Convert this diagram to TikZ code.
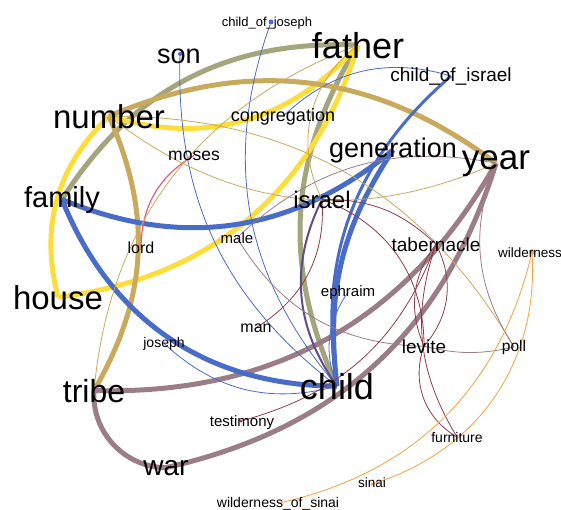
\documentclass[tikz,border=0pt]{standalone}
\usepackage{fontspec}
\setmainfont{Liberation Sans}
\definecolor{olivec}{RGB}{163,166,124}
\definecolor{yellowc}{RGB}{253,221,58}
\definecolor{tanc}{RGB}{201,170,92}
\definecolor{bluec}{RGB}{72,108,200}
\definecolor{mauvec}{RGB}{155,125,135}
\definecolor{redc}{RGB}{142,60,75}
\definecolor{pinkc}{RGB}{232,90,128}
\definecolor{purplec}{RGB}{94,75,139}
\definecolor{orangec}{RGB}{245,160,64}
\pgfdeclarelayer{edges}
\pgfsetlayers{edges,main}
\tikzset{
  w/.style={font=\fontsize{#1}{#1}\selectfont, inner sep=0pt, anchor=base, text=black},
  dotn/.style={circle, fill=#1, inner sep=0pt, minimum size=5pt},
  heavy/.style={line width=5pt},
  mid/.style={line width=3pt},
  light/.style={line width=0.8pt},
}
\begin{document}
\begin{tikzpicture}[x=1pt,y=-1pt]
\useasboundingbox (0,0) rectangle (561,509);
% node dots
\node[dotn=bluec] (cjdot) at (271,22) {};
\node[dotn=bluec, minimum size=4pt] (sondot) at (180,54) {};
\node[dotn=orangec] (wdot) at (532,252) {};
\node[dotn=orangec, minimum size=3pt] (sdot) at (372,484) {};
\node[dotn=redc, minimum size=3pt] (tdot) at (241,421) {};
% labels
\node[w=13] (cjoseph) at (267,26) {child\_of\_joseph};
\node[w=27] (son) at (179,63) {son};
\node[w=36] (father) at (358,58) {father};
\node[w=19] (cisrael) at (451,81) {child\_of\_israel};
\node[w=33] (number) at (109,128) {number};
\node[w=18] (congregation) at (283,121) {congregation};
\node[w=17.5] (moses) at (194,160) {moses};
\node[w=27] (generation) at (393,157) {generation};
\node[w=35] (year) at (496,169) {year};
\node[w=29] (family) at (62,207) {family};
\node[w=24] (israel) at (322,208) {israel};
\node[w=16] (lord) at (141,253) {lord};
\node[w=15] (male) at (237,243) {male};
\node[w=19] (tabernacle) at (436,251) {tabernacle};
\node[w=13.5] (wilderness) at (530,257) {wilderness};
\node[w=33] (house) at (58,309) {house};
\node[w=15] (ephraim) at (348,296) {ephraim};
\node[w=16] (man) at (256,332) {man};
\node[w=19] (levite) at (424,353) {levite};
\node[w=15.5] (poll) at (514,351) {poll};
\node[w=14] (joseph) at (164,347) {joseph};
\node[w=32] (tribe) at (94,402) {tribe};
\node[w=36] (child) at (337,399) {child};
\node[w=15] (testimony) at (242,426) {testimony};
\node[w=14] (furniture) at (457,442) {furniture};
\node[w=28] (war) at (166,475) {war};
\node[w=13.5] (sinai) at (372,487) {sinai};
\node[w=14] (wos) at (278,507) {wilderness\_of\_sinai};
\begin{pgfonlayer}{edges}
\draw[heavy,olivec] (father.center) to[bend right=30] (family.center);
\draw[heavy,olivec] (father.center) to[bend right=28] (child.center);
\draw[heavy,yellowc] (father.center) to[bend left=33] (number.center);
\draw[heavy,yellowc] (father.center) to[bend left=33] (house.center);
\draw[heavy,yellowc] (number.center) to[bend right=30] (house.center);
\draw[heavy,tanc] (number.center) to[bend left=30] (year.center);
\draw[heavy,tanc] (number.center) to[bend left=27] (tribe.center);
\draw[heavy,mauvec] (year.center) to[bend left=31] (tribe.center);
\draw[heavy,mauvec] (year.center) to[bend left=30] (war.center);
\draw[heavy,mauvec] (tribe.center) to[bend right=47] (war.center);
\draw[heavy,bluec] (family.center) to[bend right=34] (child.center);
\draw[heavy,bluec] (family.center) to[bend right=31] (generation.center);
\draw[heavy,bluec] (child.center) to[bend left=20] (generation.center);
\draw[mid,bluec] (child.center) to[bend left=29] (cisrael.center);
\draw[light,bluec] (sondot) to[bend right=27] (child.center);
\draw[light,bluec] (cjdot) to[bend right=30] (child.center);
\draw[light,bluec] (joseph.center) to[bend right=29] (child.center);
\draw[light,bluec] (ephraim.center) to[bend right=28] (child.center);
\draw[light,bluec] (cisrael.center) to[bend right=30] (congregation.center);
\draw[line width=1.2pt,pinkc] (moses.center) to[bend right=29] (lord.center);
\draw[line width=2pt,purplec] (israel.center) to[bend right=31] (child.center);
\draw[light,redc] (israel.center) to[bend left=31] (man.center);
\draw[light,tanc] (father.center) to[bend right=40] (israel.center);
\draw[light,tanc] (father.center) to[bend right=32] (tribe.center);
\draw[light,tanc] (number.center) to[bend right=31] (year.center);
\draw[light,tanc] (number.center) to[bend left=30] (poll.center);
\draw[light,mauvec] (year.center) to[bend right=27] (male.center);
\draw[light,mauvec] (male.center) to[bend right=29] (levite.center);
\draw[light,mauvec] (year.center) to[bend right=27] (poll.center);
\draw[light,mauvec] (levite.center) to[bend right=13] (poll.center);
\draw[light,redc] (israel.center) to[bend left=22] (tabernacle.center);
\draw[light,redc] (israel.center) to[bend left=35] (levite.center);
\draw[light,redc] (tabernacle.center) to[bend left=34] (levite.center);
\draw[light,redc] (tabernacle.center) to[bend right=30] (levite.center);
\draw[light,redc] (levite.center) to[bend right=40] (furniture.center);
\draw[light,redc] (tabernacle.center) to[bend right=25] (furniture.center);
\draw[light,redc] (tdot) to[bend right=27] (tabernacle.center);
\draw[light,orangec] (wdot) to[bend left=38] (sdot);
\draw[light,orangec] (wdot) to[bend left=32] (wos.center);
\end{pgfonlayer}
\end{tikzpicture}
\end{document}
